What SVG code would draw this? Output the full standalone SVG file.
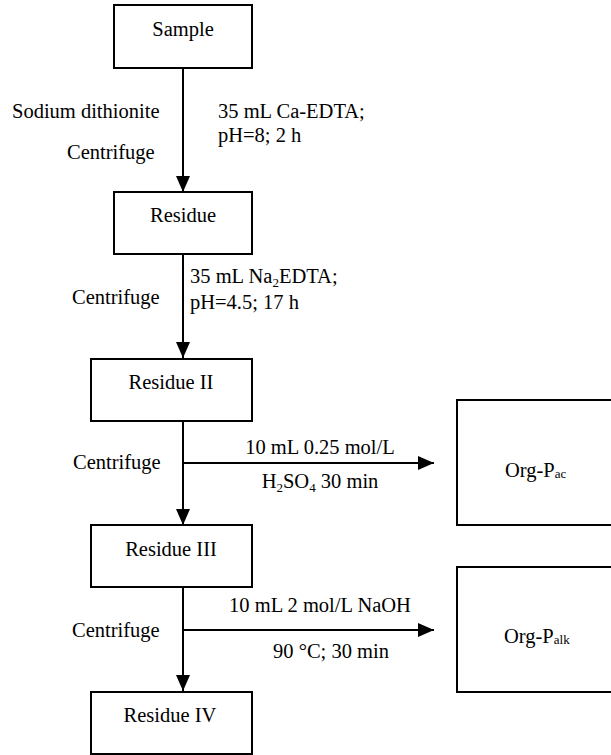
<svg xmlns="http://www.w3.org/2000/svg" width="611" height="755" viewBox="0 0 611 755" font-family="'Liberation Serif', 'Times New Roman', serif">
<defs>
<style>
.box{fill:#fff;stroke:#000;stroke-width:2}
.t{font-family:'Liberation Serif','Times New Roman',serif;font-size:20.5px;fill:#000}
.m{text-anchor:middle}
.ln{stroke:#000;stroke-width:2;fill:none}
.sub{font-size:13px}
</style>
<marker id="ah" markerWidth="16" markerHeight="14" viewBox="0 0 16 14" refX="16" refY="7" orient="auto" markerUnits="userSpaceOnUse">
<path d="M0,0 L16,7 L0,14 Z" fill="#000"/>
</marker>
</defs>
<rect width="611" height="755" fill="#fff"/>
<g id="connectors">
<line class="ln" x1="183" y1="68" x2="183" y2="192" marker-end="url(#ah)"/>
<line class="ln" x1="183" y1="254" x2="183" y2="358" marker-end="url(#ah)"/>
<line class="ln" x1="183" y1="421" x2="183" y2="525" marker-end="url(#ah)"/>
<line class="ln" x1="183" y1="463" x2="434" y2="463" marker-end="url(#ah)"/>
<line class="ln" x1="183" y1="587" x2="183" y2="691" marker-end="url(#ah)"/>
<line class="ln" x1="183" y1="630" x2="434" y2="630" marker-end="url(#ah)"/>
<text class="t" x="12" y="118">Sodium dithionite</text>
<text class="t" x="67" y="159">Centrifuge</text>
<text class="t" x="218" y="118">35 mL Ca-EDTA;</text>
<text class="t" x="218" y="142">pH=8; 2 h</text>
<text class="t" x="72" y="304">Centrifuge</text>
<text class="t" x="190" y="283">35 mL Na<tspan class="sub" dy="4">2</tspan><tspan dy="-4">EDTA;</tspan></text>
<text class="t" x="190" y="309">pH=4.5; 17 h</text>
<text class="t" x="73" y="469">Centrifuge</text>
<text class="t m" x="320" y="454">10 mL 0.25 mol/L</text>
<text class="t m" x="320" y="488">H<tspan class="sub" dy="4">2</tspan><tspan dy="-4">SO</tspan><tspan class="sub" dy="4">4</tspan><tspan dy="-4"> 30 min</tspan></text>
<text class="t" x="72" y="637">Centrifuge</text>
<text class="t m" x="320" y="612">10 mL 2 mol/L NaOH</text>
<text class="t m" x="331" y="658">90 °C; 30 min</text>
</g>
<g id="sample">
<rect class="box" x="114" y="5" width="138" height="63"/>
<text class="t m" x="183" y="36">Sample</text>
</g>
<g id="residue">
<rect class="box" x="114" y="192" width="138" height="62"/>
<text class="t m" x="183" y="222">Residue</text>
</g>
<g id="residue2">
<rect class="box" x="91" y="359" width="161" height="62"/>
<text class="t m" x="171" y="389">Residue II</text>
</g>
<g id="residue3">
<rect class="box" x="91" y="525" width="161" height="62"/>
<text class="t m" x="171" y="556">Residue III</text>
</g>
<g id="residue4">
<rect class="box" x="91" y="692" width="161" height="62"/>
<text class="t m" x="170" y="722">Residue IV</text>
</g>
<g id="orgpac">
<rect class="box" x="457" y="400" width="160" height="125"/>
<text class="t" x="505" y="477">Org-P<tspan class="sub" dy="1">ac</tspan></text>
</g>
<g id="orgpalk">
<rect class="box" x="457" y="567" width="160" height="125"/>
<text class="t" x="504" y="643">Org-P<tspan class="sub" dy="1">alk</tspan></text>
</g>
</svg>
